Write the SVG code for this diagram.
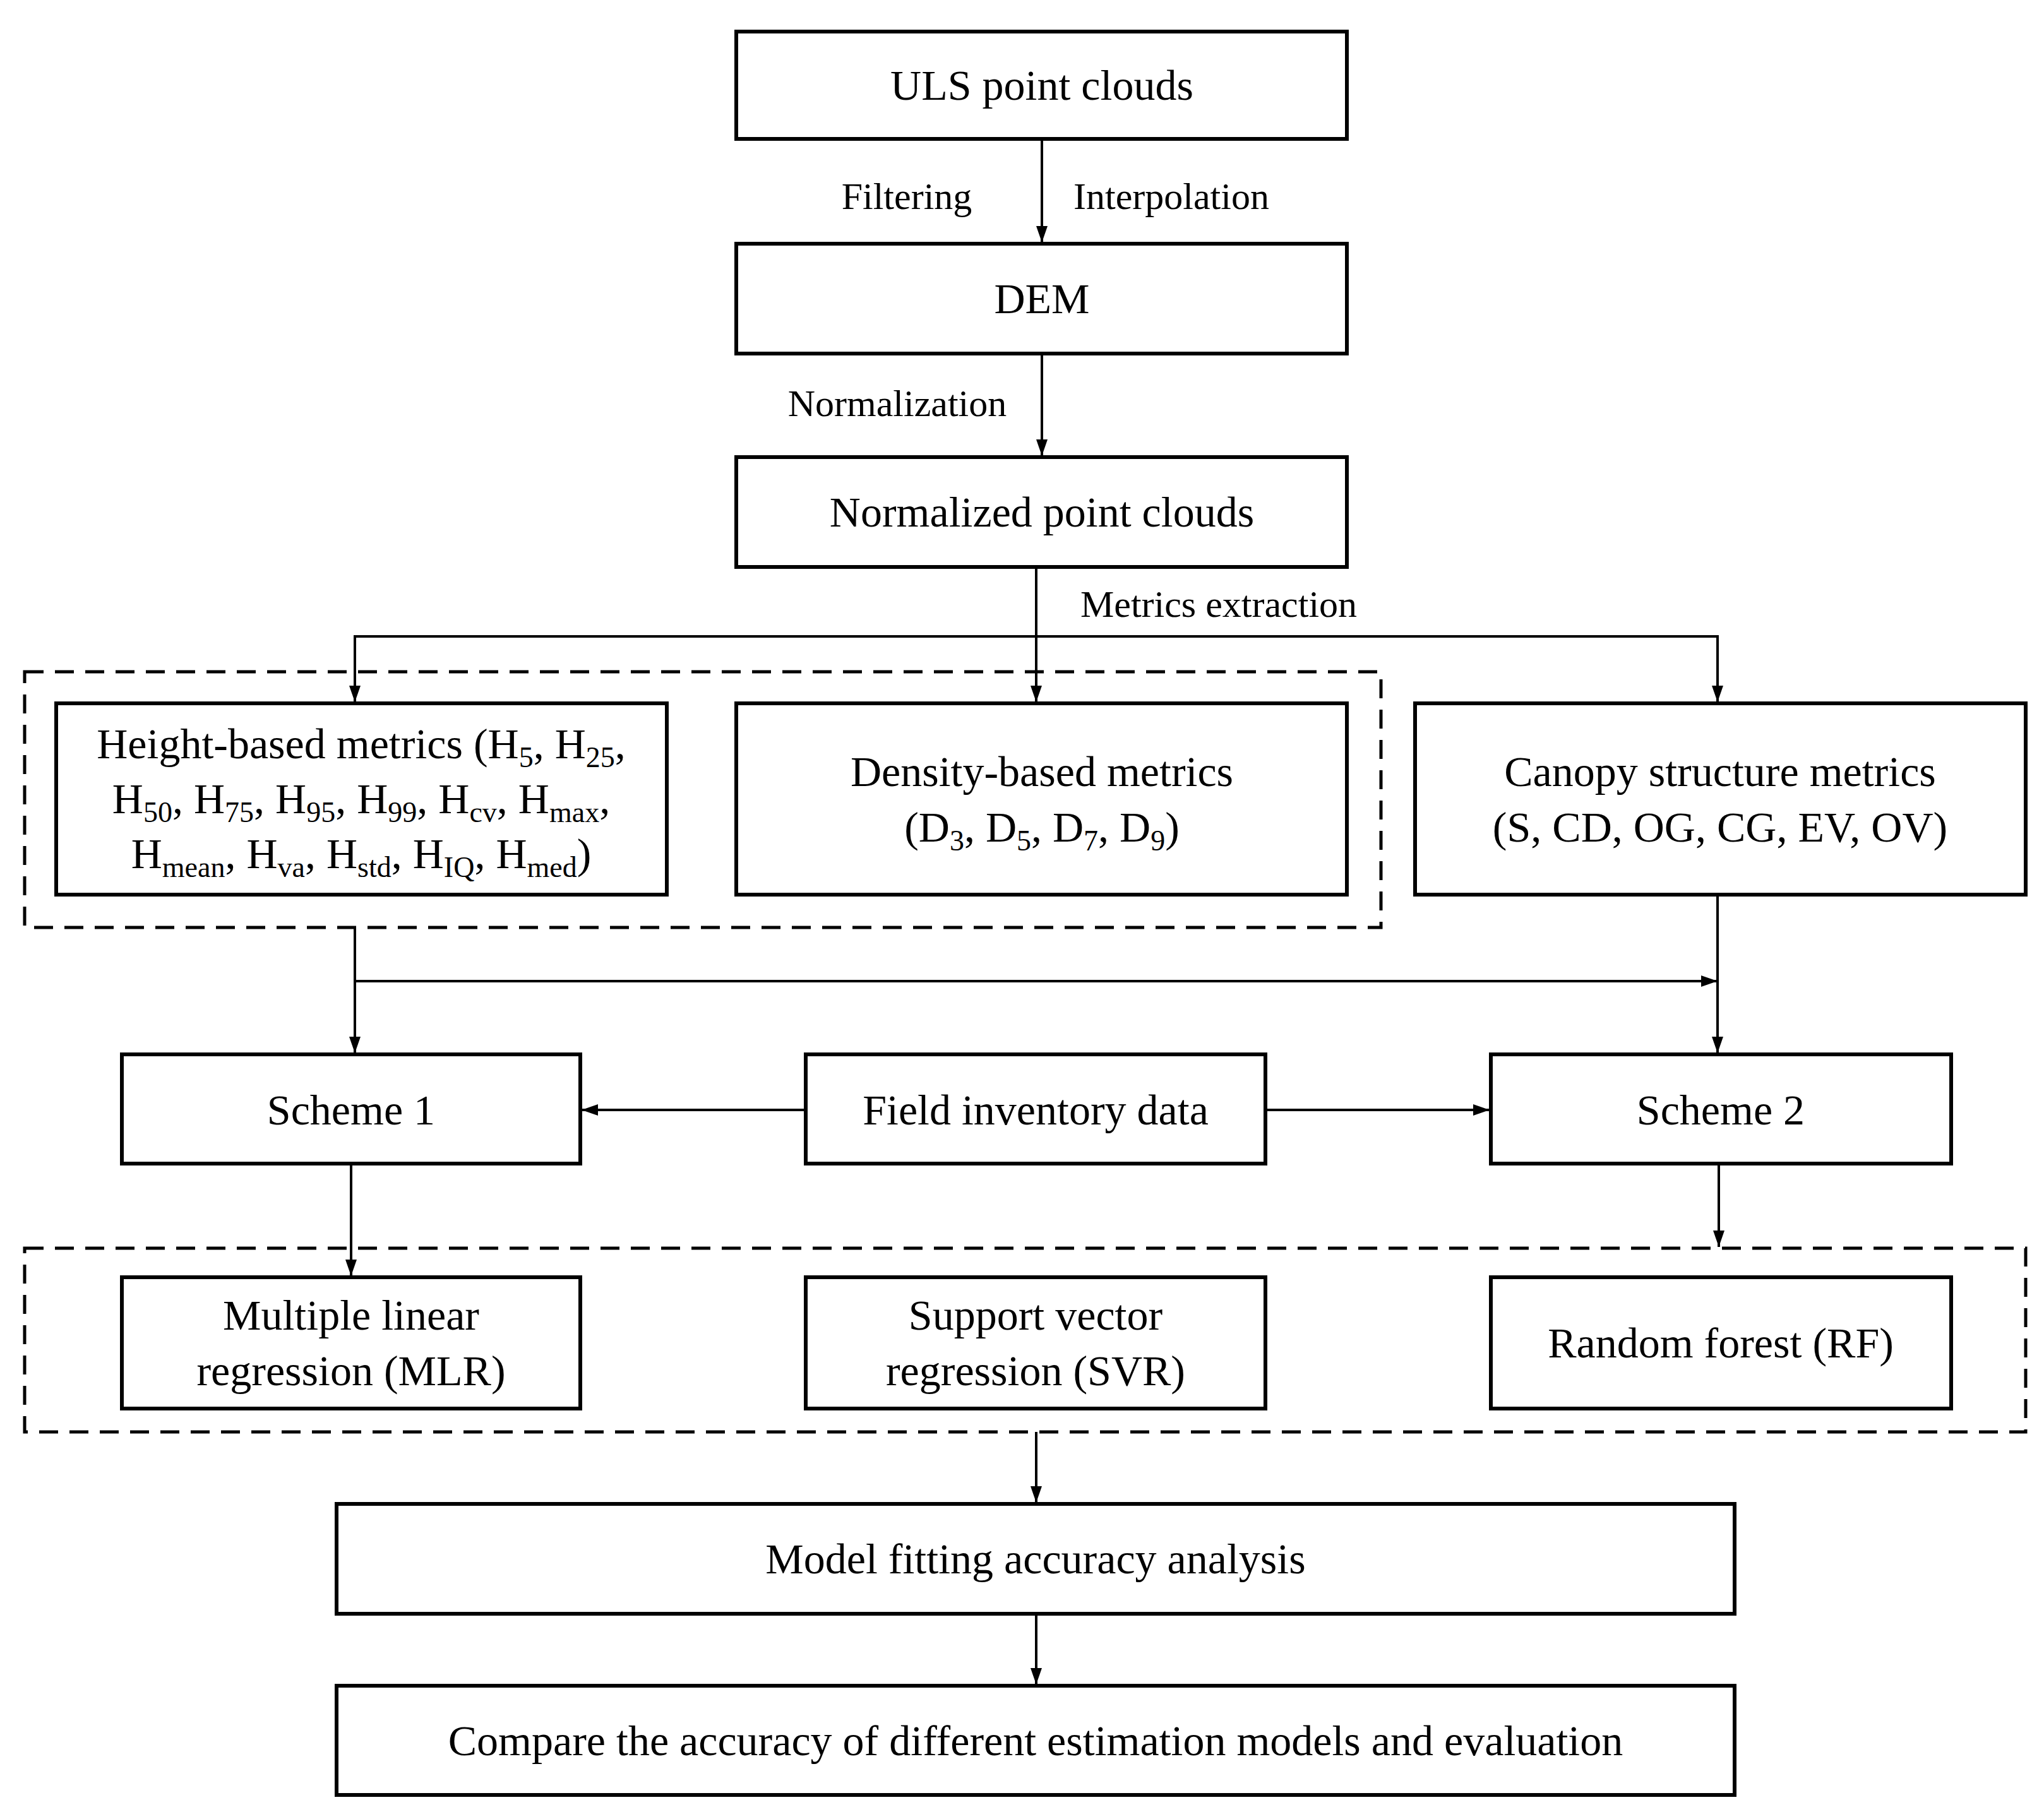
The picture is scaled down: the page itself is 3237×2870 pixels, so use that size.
<svg xmlns="http://www.w3.org/2000/svg" width="3237" height="2870" viewBox="0 0 3237 2870">
<style>
.b{fill:#fff;stroke:#000;stroke-width:6}
.d{fill:none;stroke:#000;stroke-width:5;stroke-dasharray:30 18}
.t{font-family:"Liberation Serif","Times New Roman",serif;font-size:68px;text-anchor:middle;fill:#000}
.l{font-family:"Liberation Serif","Times New Roman",serif;font-size:60px;text-anchor:middle;fill:#000}
.s{font-size:46px}
.c{fill:none;stroke:#000;stroke-width:4}
</style>
<defs><marker id="a" markerWidth="10" markerHeight="12" refX="10" refY="6" orient="auto" markerUnits="userSpaceOnUse" viewBox="0 0 10 12"><path d="M0,0L10,6L0,12z" fill="#000"/></marker>
<marker id="A" markerWidth="26" markerHeight="26" refX="26" refY="13" orient="auto" markerUnits="userSpaceOnUse" viewBox="0 0 26 26"><path d="M0,4L26,13L0,22z" fill="#000"/></marker></defs>
<rect class="d" x="39" y="1064" width="2148" height="405"/>
<rect class="d" x="39" y="1977" width="3169" height="291"/>
<g id="connectors">
<path class="c" d="M1650,220V384" marker-end="url(#A)"/>
<path class="c" d="M1650,560V722" marker-end="url(#A)"/>
<path class="c" d="M1641,898V1112" marker-end="url(#A)"/>
<path class="c" d="M562,1112V1008H2720V1112" marker-end="url(#A)"/>
<path class="c" d="M562,1008V1112" marker-end="url(#A)"/>
<path class="c" d="M562,1469V1668" marker-end="url(#A)"/>
<path class="c" d="M562,1554H2720" marker-end="url(#A)"/>
<path class="c" d="M2720,1417V1668" marker-end="url(#A)"/>
<path class="c" d="M1276,1758H921" marker-end="url(#A)"/>
<path class="c" d="M2004,1758H2359" marker-end="url(#A)"/>
<path class="c" d="M556,1843V2021" marker-end="url(#A)"/>
<path class="c" d="M2722,1843V1975" marker-end="url(#A)"/>
<path class="c" d="M1641,2268V2380" marker-end="url(#A)"/>
<path class="c" d="M1641,2556V2668" marker-end="url(#A)"/>
</g>
<text class="l" x="1436" y="331">Filtering</text>
<text class="l" x="1855" y="331">Interpolation</text>
<text class="l" x="1421" y="659">Normalization</text>
<text class="l" x="1930" y="977">Metrics extraction</text>
<g id="uls"><rect class="b" x="1166" y="50" width="967" height="170"/><text class="t" x="1650" y="158">ULS point clouds</text></g>
<g id="dem"><rect class="b" x="1166" y="386" width="967" height="174"/><text class="t" x="1650" y="496">DEM</text></g>
<g id="norm"><rect class="b" x="1166" y="724" width="967" height="174"/><text class="t" x="1650" y="834">Normalized point clouds</text></g>
<g id="height"><rect class="b" x="89" y="1114" width="967" height="303"/>
<text class="t" x="572" y="1201">Height-based metrics (H<tspan class="s" dy="14">5</tspan><tspan dy="-14">, H</tspan><tspan class="s" dy="14">25</tspan><tspan dy="-14">,</tspan></text>
<text class="t" x="572" y="1288">H<tspan class="s" dy="14">50</tspan><tspan dy="-14">, H</tspan><tspan class="s" dy="14">75</tspan><tspan dy="-14">, H</tspan><tspan class="s" dy="14">95</tspan><tspan dy="-14">, H</tspan><tspan class="s" dy="14">99</tspan><tspan dy="-14">, H</tspan><tspan class="s" dy="14">cv</tspan><tspan dy="-14">, H</tspan><tspan class="s" dy="14">max</tspan><tspan dy="-14">,</tspan></text>
<text class="t" x="572" y="1375">H<tspan class="s" dy="14">mean</tspan><tspan dy="-14">, H</tspan><tspan class="s" dy="14">va</tspan><tspan dy="-14">, H</tspan><tspan class="s" dy="14">std</tspan><tspan dy="-14">, H</tspan><tspan class="s" dy="14">IQ</tspan><tspan dy="-14">, H</tspan><tspan class="s" dy="14">med</tspan><tspan dy="-14">)</tspan></text></g>
<g id="density"><rect class="b" x="1166" y="1114" width="967" height="303"/>
<text class="t" x="1650" y="1245">Density-based metrics</text>
<text class="t" x="1650" y="1333">(D<tspan class="s" dy="14">3</tspan><tspan dy="-14">, D</tspan><tspan class="s" dy="14">5</tspan><tspan dy="-14">, D</tspan><tspan class="s" dy="14">7</tspan><tspan dy="-14">, D</tspan><tspan class="s" dy="14">9</tspan><tspan dy="-14">)</tspan></text></g>
<g id="canopy"><rect class="b" x="2241" y="1114" width="967" height="303"/>
<text class="t" x="2724" y="1245">Canopy structure metrics</text>
<text class="t" x="2724" y="1333">(S, CD, OG, CG, EV, OV)</text></g>
<g id="s1"><rect class="b" x="193" y="1670" width="726" height="173"/><text class="t" x="556" y="1781">Scheme 1</text></g>
<g id="field"><rect class="b" x="1276" y="1670" width="728" height="173"/><text class="t" x="1640" y="1781">Field inventory data</text></g>
<g id="s2"><rect class="b" x="2361" y="1670" width="729" height="173"/><text class="t" x="2725" y="1781">Scheme 2</text></g>
<g id="mlr"><rect class="b" x="193" y="2023" width="726" height="208"/><text class="t" x="556" y="2106">Multiple linear</text><text class="t" x="556" y="2194">regression (MLR)</text></g>
<g id="svr"><rect class="b" x="1276" y="2023" width="728" height="208"/><text class="t" x="1640" y="2106">Support vector</text><text class="t" x="1640" y="2194">regression (SVR)</text></g>
<g id="rf"><rect class="b" x="2361" y="2023" width="729" height="208"/><text class="t" x="2725" y="2150">Random forest (RF)</text></g>
<g id="model"><rect class="b" x="533" y="2382" width="2214" height="174"/><text class="t" x="1640" y="2492">Model fitting accuracy analysis</text></g>
<g id="compare"><rect class="b" x="533" y="2670" width="2214" height="173"/><text class="t" x="1640" y="2780">Compare the accuracy of different estimation models and evaluation</text></g>
</svg>
